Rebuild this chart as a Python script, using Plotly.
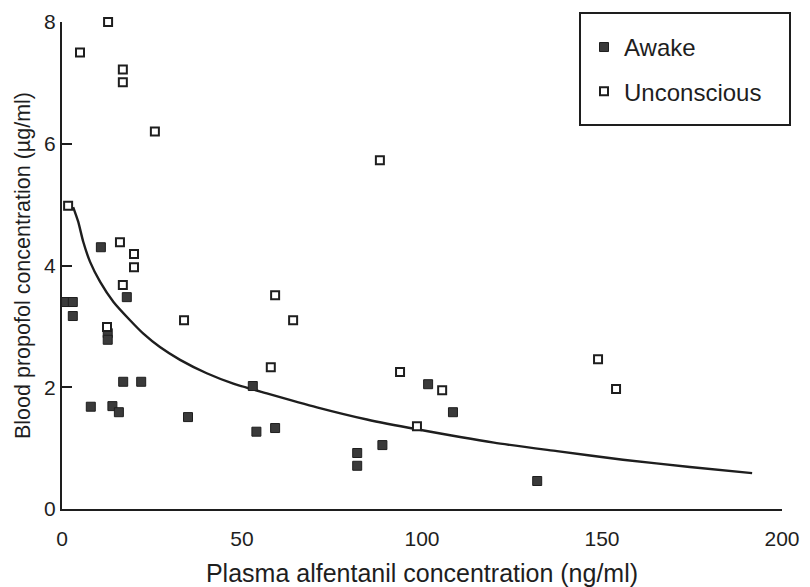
import plotly.graph_objects as go

# Awake (filled squares)
awake_x = [1, 3, 3, 10.8, 12.7, 12.7, 18, 8, 14, 15.8, 17, 22, 35, 53, 54, 59.2, 82, 82, 89, 101.7, 108.6, 132]
awake_y = [3.4, 3.4, 3.17, 4.3, 2.89, 2.78, 3.48, 1.68, 1.69, 1.59, 2.09, 2.09, 1.51, 2.02, 1.27, 1.33, 0.92, 0.71, 1.05, 2.05, 1.59, 0.46]

# Unconscious (open squares)
unc_x = [5, 12.8, 16.9, 16.9, 25.8, 1.7, 16.1, 20, 20, 16.9, 12.5, 33.9, 59.2, 64.2, 58, 88.3, 93.9, 105.6, 98.6, 148.9, 153.9]
unc_y = [7.5, 8.0, 7.22, 7.01, 6.2, 4.98, 4.38, 4.19, 3.97, 3.68, 2.99, 3.1, 3.51, 3.1, 2.33, 5.73, 2.25, 1.95, 1.36, 2.46, 1.97]

# Fitted curve
curve_x = [3.1, 4.5, 5.9, 7.8, 10.6, 14.3, 18.9, 22.6, 27.2, 32.8, 40.2, 47.6, 56.9, 70.8, 84.7, 98.6, 120, 137.5, 155.8, 174.4, 191.7]
curve_y = [4.96, 4.72, 4.39, 4.06, 3.73, 3.40, 3.10, 2.88, 2.66, 2.45, 2.23, 2.06, 1.90, 1.67, 1.47, 1.31, 1.09, 0.95, 0.81, 0.69, 0.59]

x_ticks = [0, 50, 100, 150, 200]
y_ticks = [0, 2, 4, 6, 8]

ink = "#1e1e1e"
font_family = "Liberation Sans, Arial, Helvetica, sans-serif"

fig = go.Figure()
fig.add_trace(go.Scatter(
    x=curve_x, y=curve_y, mode="lines", line=dict(color=ink, width=2.4, shape="spline", smoothing=0.6),
    showlegend=False, hoverinfo="skip"))
fig.add_trace(go.Scatter(
    x=awake_x, y=awake_y, mode="markers", name="Awake",
    marker=dict(symbol="square", size=9, color="#3a3a3a", line=dict(color=ink, width=1)),
    legendgroup="a", cliponaxis=False))
fig.add_trace(go.Scatter(
    x=unc_x, y=unc_y, mode="markers", name="Unconscious",
    marker=dict(symbol="square", size=8, color="white", line=dict(color=ink, width=2)),
    legendgroup="u", cliponaxis=False))

fig.update_layout(
    width=810, height=587,
    margin=dict(l=62, r=28, t=22, b=78),
    paper_bgcolor="white", plot_bgcolor="white",
    font=dict(family=font_family, size=21, color=ink),
    xaxis=dict(range=[0, 200], tickvals=x_ticks, ticks="", showgrid=False, zeroline=False,
               showline=True, linecolor=ink, linewidth=2, ticklabelstandoff=10, automargin=False,
               title=dict(text="Plasma alfentanil concentration (ng/ml)", font=dict(size=25), standoff=18),
               tickfont=dict(size=21)),
    yaxis=dict(range=[0, 8], tickvals=y_ticks, ticks="inside", ticklen=10, tickcolor=ink, tickwidth=1.5,
               showgrid=False, zeroline=False, automargin=False,
               showline=True, linecolor=ink, linewidth=2,
               title=dict(text="Blood propofol concentration (µg/ml)", font=dict(size=21.5), standoff=8),
               tickfont=dict(size=21)),
    legend=dict(x=0.725, y=0.994, xanchor="left", yanchor="top", bgcolor="rgba(0,0,0,0)",
                borderwidth=0, traceorder="grouped", tracegroupgap=10, font=dict(size=24)),
    shapes=[dict(type="rect", xref="paper", yref="paper",
                 x0=(580 - 62) / 720, x1=(790 - 62) / 720,
                 y0=(509 - 125) / 487, y1=(509 - 13) / 487,
                 line=dict(color=ink, width=2), fillcolor="rgba(0,0,0,0)")],
)

fig.write_html("out.html")
